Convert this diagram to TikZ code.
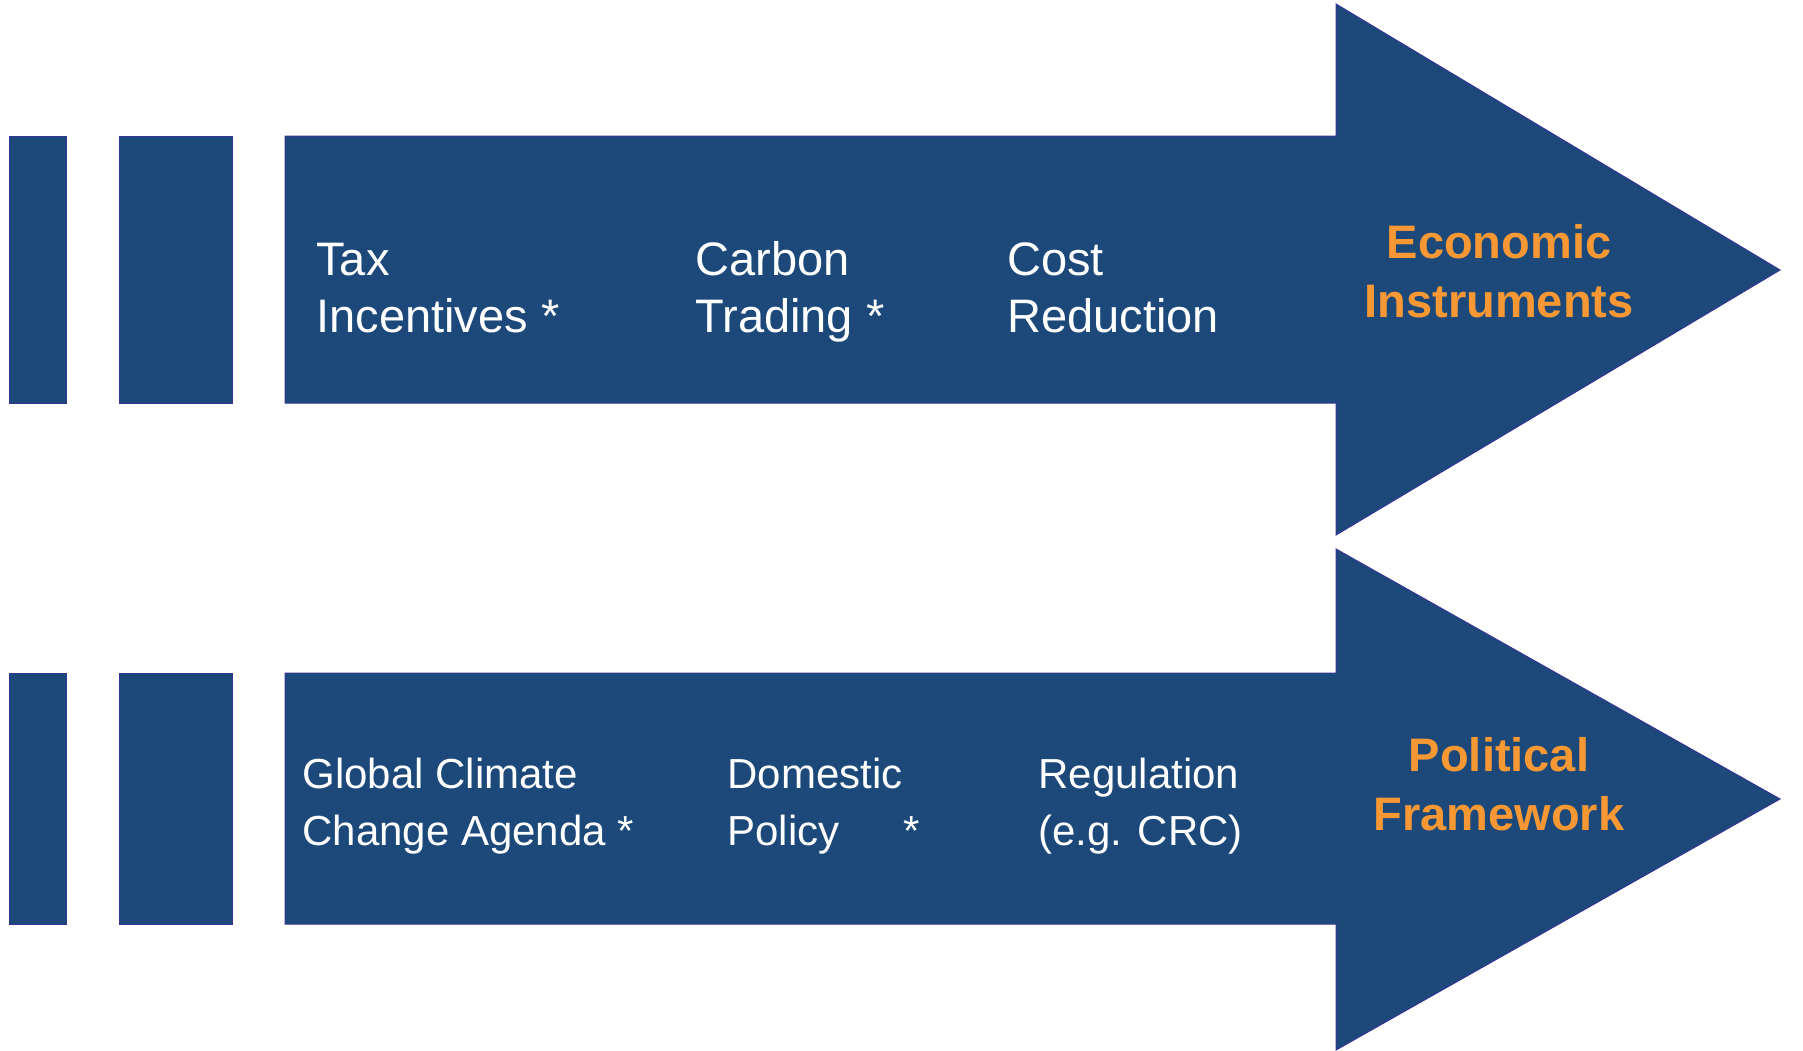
\documentclass[tikz,border=0pt]{standalone}
\usepackage{fontspec}
\setmainfont{Liberation Sans}
\definecolor{barblue}{RGB}{28,73,122}
\definecolor{edgeblue}{RGB}{52,52,150}
\definecolor{labelorange}{RGB}{247,152,52}

\begin{document}
\begin{tikzpicture}[x=0.5pt,y=-0.5pt,
  bar/.style={fill=barblue,draw=edgeblue,line width=0.5pt},
  item/.style={text=white,anchor=base west,align=left,inner sep=0pt},
  bigitem/.style={item,font=\fontsize{23.5}{28.5}\selectfont},
  smallitem/.style={item,font=\fontsize{21}{28.5}\selectfont},
  title/.style={text=labelorange,anchor=base,align=center,inner sep=0pt,
    font=\bfseries\fontsize{23.5}{29.5}\selectfont}]
  \useasboundingbox (0,0) rectangle (1803,1050);

  % economic instruments
  \draw[bar] (9,136) rectangle (66,403);
  \draw[bar] (119,136) rectangle (232,403);
  \draw[bar] (285,136) -- (1336,136) -- (1336,4) -- (1780,270)
    -- (1336,535) -- (1336,403) -- (285,403) -- cycle;
  \node[bigitem] (tax)    at (316,332)  {Tax\\Incentives *};
  \node[bigitem] (carbon) at (695,332)  {Carbon\\Trading *};
  \node[bigitem] (cost)   at (1007,332) {Cost\\Reduction};
  \node[title]   (econ)   at (1499,317) {Economic\\Instruments};

  % political framework
  \draw[bar] (9,673) rectangle (66,924);
  \draw[bar] (119,673) rectangle (232,924);
  \draw[bar] (285,673) -- (1336,673) -- (1336,549) -- (1780,799)
    -- (1336,1050) -- (1336,924) -- (285,924) -- cycle;
  \node[smallitem] (global)   at (302,845)  {Global Climate\\Change Agenda *};
  \node[smallitem] (domestic) at (727,845)  {Domestic\\\makebox[88pt][l]{Policy}*};
  \node[smallitem] (crc)      at (1038,845) {Regulation\\(e.g. CRC)};
  \node[title]     (politics) at (1499,830) {Political\\Framework};
\end{tikzpicture}
\end{document}
